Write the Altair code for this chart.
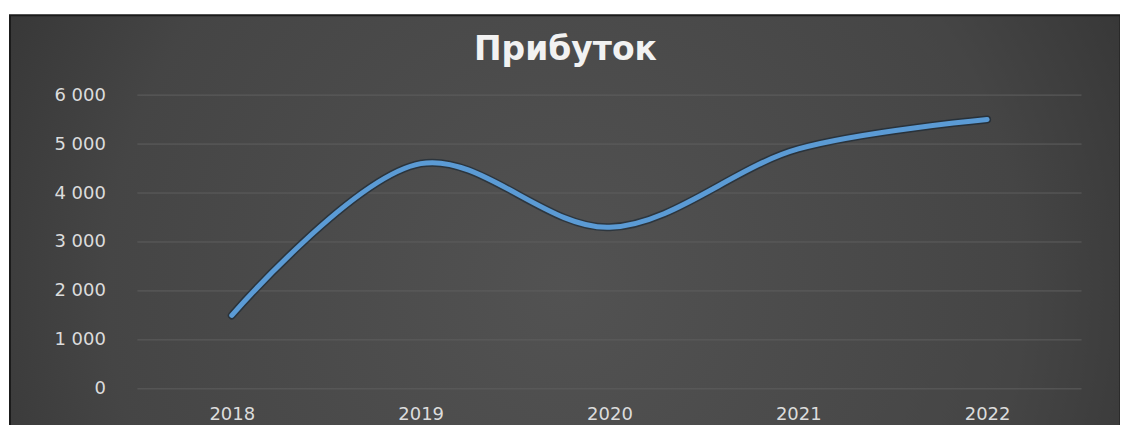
import altair as alt
import pandas as pd

years = ["2018", "2019", "2020", "2021", "2022"]
profit = [1500, 4600, 3300, 4900, 5500]
y_ticks = [0, 1000, 2000, 3000, 4000, 5000, 6000]
title_text = "Прибуток"

df = pd.DataFrame({"year": years, "profit": profit})
grid_df = pd.DataFrame({"profit": y_ticks})

W, H = 945, 294

panel = alt.Chart(pd.DataFrame({"a": [0]})).mark_rect(
    fill=alt.RadialGradient(
        gradient="radial",
        stops=[
            alt.GradientStop(color="#525252", offset=0),
            alt.GradientStop(color="#454545", offset=0.55),
            alt.GradientStop(color="#262626", offset=1),
        ],
        x1=0.5, y1=0.55, r1=0, x2=0.5, y2=0.55, r2=0.75,
    ),
    stroke="#1b1b1b",
    strokeWidth=2,
).encode(
    x=alt.value(-127.5), x2=alt.value(W + 39),
    y=alt.value(-80), y2=alt.value(H + 60),
)

yscale = alt.Scale(domain=[0, 6000], nice=False)

grid = alt.Chart(grid_df).mark_rule(color="#5e5e5e", strokeWidth=1).encode(
    y=alt.Y("profit:Q", scale=yscale, title=None),
    x=alt.value(0), x2=alt.value(W),
)

base = alt.Chart(df).encode(
    x=alt.X("year:N", sort=years, title=None,
            scale=alt.Scale(paddingInner=0, paddingOuter=0),
            axis=alt.Axis(labelAngle=0, labelFontSize=18, labelColor="#dcdcdc",
                          labelFont="DejaVu Sans", labelPadding=17,
                          domain=False, ticks=False, grid=False, zindex=3)),
    y=alt.Y("profit:Q", title=None, scale=yscale,
            axis=alt.Axis(values=y_ticks, labelFontSize=18, labelColor="#dcdcdc",
                          labelFont="DejaVu Sans", labelPadding=32,
                          labelExpr="replace(format(datum.value, ','), ',', ' ')",
                          domain=False, ticks=False, grid=False, zindex=3)),
)

shadow = base.mark_line(interpolate="catmull-rom", color="#10202f", strokeWidth=8,
                        opacity=0.55, strokeCap="round")
line = base.mark_line(interpolate="catmull-rom", color="#5b9bd5", strokeWidth=5,
                      strokeCap="round")

chart = alt.layer(panel, grid, shadow, line).properties(
    width=W, height=H,
    title=alt.TitleParams(title_text, fontSize=33, font="DejaVu Sans", fontWeight="bold",
                          color="#f2f2f2", anchor="middle", dx=-44, dy=86, offset=0,
                          baseline="bottom", zindex=3),
    autosize=alt.AutoSizeParams(type="none"),
    padding={"left": 129.5, "top": 87, "right": 38.5, "bottom": 36},
).configure(background="white").configure_view(stroke=None)

chart.save("out.html", embed_options={"renderer": "svg", "actions": False})
